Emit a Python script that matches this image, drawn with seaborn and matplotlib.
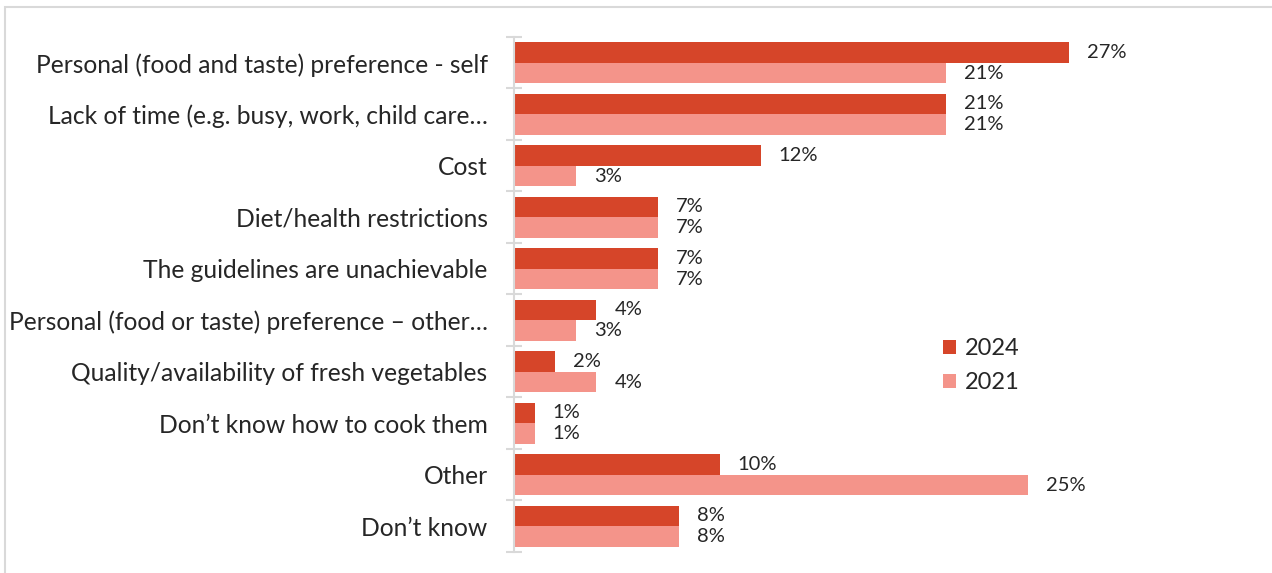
import matplotlib
matplotlib.use("Agg")
import matplotlib.pyplot as plt
import matplotlib.patches as mpatches
import seaborn as sns
import pandas as pd
import numpy as np

categories = [
    "Personal (food and taste) preference - self",
    "Lack of time (e.g. busy, work, child care\u2026",
    "Cost",
    "Diet/health restrictions",
    "The guidelines are unachievable",
    "Personal (food or taste) preference \u2013 other\u2026",
    "Quality/availability of fresh vegetables",
    "Don\u2019t know how to cook them",
    "Other",
    "Don\u2019t know",
]
values_2024 = [27, 21, 12, 7, 7, 4, 2, 1, 10, 8]
values_2021 = [21, 21, 3, 7, 7, 3, 4, 1, 25, 8]
years = ["2024", "2021"]
colors = ["#D64529", "#F4948A"]

df = pd.DataFrame({
    "category": categories * 2,
    "year": ["2024"] * len(categories) + ["2021"] * len(categories),
    "value": values_2024 + values_2021,
})

sns.set_theme(style="white")
plt.rcParams["font.family"] = ["Lato", "DejaVu Sans"]

fig = plt.figure(figsize=(12.72, 5.73), dpi=100)
ax = fig.add_axes([514 / 1272, 1 - 552 / 573, 0.485, (552 - 37) / 573])

sns.barplot(data=df, y="category", x="value", hue="year", order=categories,
            hue_order=years, palette=colors, orient="h", ax=ax,
            saturation=1, width=0.8, legend=True, linewidth=0)

ax.set_xlim(0, 30)
ax.set_ylim(len(categories) - 0.5, -0.5)
ax.set_xlabel("")
ax.set_ylabel("")
ax.set_xticks([])
for s in ["top", "right", "bottom"]:
    ax.spines[s].set_visible(False)
ax.spines["left"].set_color("#D9D9D9")
ax.spines["left"].set_linewidth(1.5)

ax.tick_params(axis="y", which="major", left=False, length=0, pad=19,
               labelsize=17.7, labelcolor="#262626")
ax.set_yticks(np.arange(-0.5, len(categories), 1), minor=True)
ax.tick_params(axis="y", which="minor", left=True, length=12, width=1.5,
               direction="inout", color="#D9D9D9")

for cont in ax.containers:
    ax.bar_label(cont, fmt="%d%%", padding=13, fontsize=14.5, color="#262626")

leg = ax.legend(loc="upper left", bbox_to_anchor=(0.695, 0.415), frameon=False,
                fontsize=17, handlelength=0.55, handleheight=0.55,
                handletextpad=0.4, labelspacing=0.55, borderaxespad=0,
                borderpad=0)
for t in leg.get_texts():
    t.set_color("#262626")

fig.patches.append(mpatches.Rectangle((5 / 1272, -0.01), 1.0, 1 - 7 / 573 + 0.01,
                                      transform=fig.transFigure, fill=False,
                                      edgecolor="#D9D9D9", linewidth=1.5))

fig.savefig("out.png", dpi=100)
